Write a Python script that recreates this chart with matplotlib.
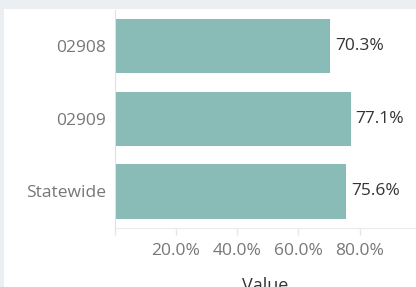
import matplotlib
matplotlib.use("Agg")
import matplotlib.pyplot as plt
from matplotlib.patches import Rectangle
from matplotlib.ticker import FuncFormatter

categories = ["02908", "02909", "Statewide"]
values = [70.3, 77.1, 75.6]
xticks = [0, 20, 40, 60, 80]

plt.rcParams["font.family"] = ["Open Sans", "DejaVu Sans"]

fig = plt.figure(figsize=(4.16, 2.87), dpi=100, facecolor="#ebeff2")
# white card area behind the chart
fig.patches.append(Rectangle((4 / 416, 0), 1, 1 - 9 / 287, transform=fig.transFigure,
                             facecolor="white", edgecolor="none", zorder=-10))

ax = fig.add_axes([114.5 / 416, 1 - 227.6 / 287, 1 - 114.5 / 416, 217.6 / 287])
ax.set_facecolor("none")

ypos = range(len(categories))
ax.barh(ypos, values, height=0.75, color="#89bcb6")
ax.set_ylim(2.5, -0.5)
ax.set_xlim(0, 98.4)

for y, v in zip(ypos, values):
    ax.annotate(f"{v:.1f}%", (v, y), xytext=(3.5, 0), textcoords="offset points",
                va="center", ha="left", fontsize=12.5, color="#333333")

ax.set_yticks(list(ypos))
ax.set_yticklabels(categories)
ax.set_xticks(xticks)
ax.xaxis.set_major_formatter(FuncFormatter(lambda x, p: "" if x == 0 else f"{x:.1f}%"))

ax.tick_params(axis="y", length=0, pad=6, labelsize=12.5, labelcolor="#777777")
ax.tick_params(axis="x", length=5, width=1, color="#e6e6e6", pad=6,
               labelsize=12.5, labelcolor="#777777")

for s in ["top", "right"]:
    ax.spines[s].set_visible(False)
ax.spines["left"].set_color("#e0e0e0")
ax.spines["bottom"].set_color("#eaeaea")

ax.set_xlabel("Value", fontsize=13, color="#333333")
ax.xaxis.set_label_coords(0.5, -0.225)

fig.savefig("out.png", dpi=100, facecolor=fig.get_facecolor())
